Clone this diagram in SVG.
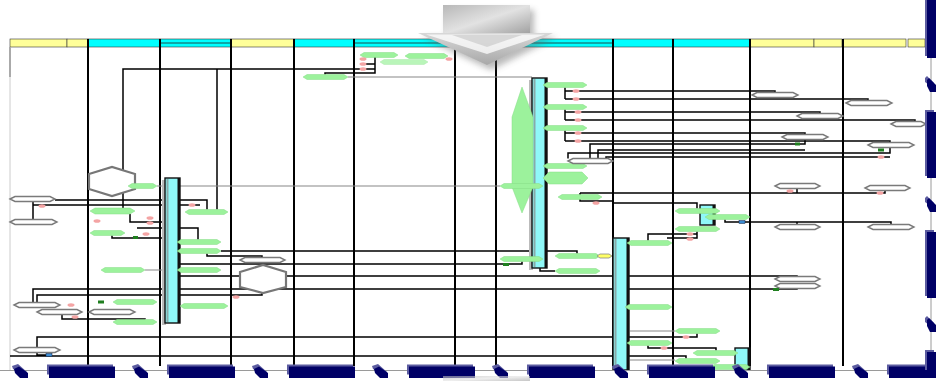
<svg xmlns="http://www.w3.org/2000/svg" width="936" height="381" viewBox="0 0 936 381">
<style>
.hy{fill:#ffff99;stroke:#333;stroke-width:.6}
.hc{fill:#00ffff;stroke:#333;stroke-width:.6}
.ln{stroke:#000;stroke-width:2;fill:none}
.c{stroke:#000;stroke-width:1.5;fill:none}
.cg{stroke:#888;stroke-width:1.2;fill:none}
.g{fill:#9cf29c;stroke:#86dc86;stroke-width:.5}
.w{fill:#fff;stroke:#7a7a7a;stroke-width:1.4}
.bw{fill:#fff;stroke:#777;stroke-width:2.2}
.p{fill:#f4a4a4}
.dg{fill:#1f7f1f}
.bl{fill:#3a8ad0;stroke:#124;stroke-width:.5}
.bar{fill:#8ff8f8;stroke:#111;stroke-width:1.4}
.nl{fill:#5c5ca0}
.nd{fill:#000066}
</style>
<defs>
<linearGradient id="ga" x1="0" y1="0" x2="1" y2="1">
<stop offset="0" stop-color="#b8b8b8"/><stop offset=".5" stop-color="#e2e2e2"/><stop offset="1" stop-color="#a0a0a0"/>
</linearGradient>
<linearGradient id="gb" x1="0" y1="0" x2="0" y2="1">
<stop offset="0" stop-color="#d8d8d8"/><stop offset="1" stop-color="#a8a8a8"/>
</linearGradient>
<filter id="sh" x="-20%" y="-20%" width="140%" height="140%"><feGaussianBlur stdDeviation="3"/></filter>
</defs>
<rect width="936" height="381" fill="#fff"/>

<g id="header">
<rect class="hy" x="10" y="39" width="57" height="8"/>
<rect class="hy" x="67" y="39" width="21" height="8"/>
<rect class="hc" x="88" y="39" width="72" height="8"/>
<rect class="hc" x="160" y="39" width="71" height="8"/>
<rect class="hy" x="231" y="39" width="63" height="8"/>
<rect class="hc" x="294" y="39" width="60" height="8"/>
<rect class="hc" x="354" y="39" width="101" height="8"/>
<rect class="hc" x="455" y="39" width="158" height="8"/>
<rect class="hc" x="613" y="39" width="60" height="8"/>
<rect class="hc" x="673" y="39" width="77" height="8"/>
<rect class="hy" x="750" y="39" width="64" height="8"/>
<rect class="hy" x="814" y="39" width="28" height="8"/>
<rect class="hy" x="843" y="39" width="63" height="8"/>
<rect class="hy" x="908" y="39" width="17" height="8"/>
<path d="M160,43 H231 M354,43 H613" stroke="#222" stroke-width=".8"/>
</g>

<g id="lanes">
<line x1="10" y1="47" x2="10" y2="370" stroke="#ccc" stroke-width="1"/>
<line x1="10" y1="47" x2="10" y2="77" stroke="#aaa" stroke-width="2"/>
<path class="ln" d="M88,39 V366 M160,39 V366 M231,39 V366 M294,39 V366 M354,39 V366 M455,39 V366 M496,39 V366 M613,39 V366 M673,39 V366 M750,39 V366 M843,39 V366"/>
</g>

<g id="connectors">
<path class="c" d="M123,208 V69 H375 M217,209.5 V69 M375,54 V73 H325 V74.5 M364,64 H375"/>
<path class="cg" d="M348,77 H532 M157,186 H165 M180,186 H500 M145,270 H165 M630,331 H675 M630,360 H675"/>
<path class="c" d="M55,200 H207 V209.5 M33,201.5 V219.5 M33,205 H200 M130,214 V222 H165 M112,235.5 V238 H165 M137,228 H198 V239.5"/>
<path class="c" d="M221,251 H577 V253.5 M207,253.5 V256 H262 V257.5 M180,264 H522 V261.5 M180,276 H797 V276.5"/>
<path class="c" stroke-width="2" d="M33,302.5 V289 H797 V288.5"/>
<path class="c" d="M37,302.5 V295 H262 V293 M62,314.5 V319 H145 V319.5 M37,347.5 V337 H697 V333.5 M37,352.5 V355 H47 M10,356 H686 V358.5"/>
<path class="c" d="M565,87.5 V99 M565,91 H775 V92.5 M565,99 H868 V100.5 M565,109.5 V120 M565,112 H820 V113.5 M565,120 H915 V121.5 M565,130.5 V141 M565,133 H805 V134.5 M565,141 H890 V142.5"/>
<path class="c" d="M590,158.5 V144 H805 V139.5 M598,158.5 V150 H805 M568,158.5 V153 H890 V147.5 M606,158.5 V157 H890"/>
<path class="c" d="M580,193 H885 V190.5 M797,188.5 V193 M580,193 V201 H613 M613,203 H697 V208.5 M725,219.5 V222 H740 M745,222 H891 V224.5 M797,222 V224.5"/>
<path class="c" d="M697,231.5 V238 H667 M648,240.5 V234 H697 M648,345.5 V348 H716 V350.5 M540,268 V271 H555"/>
</g>

<g id="bars">
<g id="a1"><rect x="162" y="180" width="4" height="145" fill="#bbb"/><rect class="bar" x="165" y="178" width="15" height="145"/><rect x="166.5" y="179" width="2" height="143" fill="#8aa"/><rect x="177.5" y="178" width="2.5" height="145" fill="#111"/></g>
<g id="a2"><rect x="529" y="80" width="4" height="190" fill="#bbb"/><rect class="bar" x="532" y="78" width="15" height="190"/><rect x="533.5" y="79" width="2" height="188" fill="#8aa"/><rect x="544.5" y="78" width="2.5" height="190" fill="#111"/></g>
<g id="a3"><rect class="bar" x="613" y="238" width="16" height="132"/><rect x="614.5" y="239" width="2" height="130" fill="#8aa"/><rect x="626.5" y="238" width="2.5" height="132" fill="#111"/></g>
<g id="a4"><rect class="bar" x="700" y="205" width="15" height="20"/><rect x="712.5" y="205" width="2.5" height="20" fill="#111"/></g>
<g id="a5"><rect class="bar" x="735" y="348" width="15" height="22"/><rect x="747.5" y="348" width="2.5" height="22" fill="#111"/></g>
</g>

<g id="bigshapes">
<g id="h1"><polygon class="bw" points="89,174 112,167 135,174 135,189 112,196 89,189"/></g>
<g id="h2"><polygon class="bw" points="240,272 263,265 286,272 286,287 263,293 240,287"/></g>
<g id="v1"><polygon class="g" points="522,87 533,117 533,187 522,213 512,187 512,117"/></g>
</g>

<g id="nodes">
<g id="g1"><polygon class="g" points="360,55 364,52.5 394,52.5 398,55 394,57.5 364,57.5"/></g>
<g id="g2"><polygon class="g" points="405,56 409,53.5 444,53.5 448,56 444,58.5 409,58.5"/></g>
<g id="g3"><polygon class="g" opacity=".7" points="380,62 384,59.5 424,59.5 428,62 424,64.5 384,64.5"/></g>
<g id="g4"><polygon class="g" points="303,77 307,74.5 344,74.5 348,77 344,79.5 307,79.5"/></g>
<g id="g5"><polygon class="g" points="543,85 547,82.5 583,82.5 587,85 583,87.5 547,87.5"/></g>
<g id="g6"><polygon class="g" points="543,107 547,104.5 583,104.5 587,107 583,109.5 547,109.5"/></g>
<g id="g7"><polygon class="g" points="543,128 547,125.5 583,125.5 587,128 583,130.5 547,130.5"/></g>
<g id="g8"><polygon class="g" points="543,166 547,163.5 583,163.5 587,166 583,168.5 547,168.5"/></g>
<g id="g9"><polygon class="g" points="543,178 549,172 582,172 588,178 582,184 549,184"/></g>
<g id="g10"><polygon class="g" points="500,186 504,183.5 539,183.5 543,186 539,188.5 504,188.5"/></g>
<g id="g11"><polygon class="g" points="558,197 562,194.5 598,194.5 602,197 598,199.5 562,199.5"/></g>
<g id="g12"><polygon class="g" points="128,186 132,183.5 153,183.5 157,186 153,188.5 132,188.5"/></g>
<g id="g13"><polygon class="g" points="90,211 95,208 130,208 135,211 130,214 95,214"/></g>
<g id="g14"><polygon class="g" points="185,212 189,209.5 224,209.5 228,212 224,214.5 189,214.5"/></g>
<g id="g15"><polygon class="g" points="90,233 94,230.5 121,230.5 125,233 121,235.5 94,235.5"/></g>
<g id="g16"><polygon class="g" points="177,242 181,239.5 217,239.5 221,242 217,244.5 181,244.5"/></g>
<g id="g17"><polygon class="g" points="177,251 181,248.5 217,248.5 221,251 217,253.5 181,253.5"/></g>
<g id="g18"><polygon class="g" points="101,270 105,267.5 141,267.5 145,270 141,272.5 105,272.5"/></g>
<g id="g19"><polygon class="g" points="177,270 181,267.5 217,267.5 221,270 217,272.5 181,272.5"/></g>
<g id="g20"><polygon class="g" points="113,302 117,299.5 153,299.5 157,302 153,304.5 117,304.5"/></g>
<g id="g21"><polygon class="g" points="180,306 184,303.5 224,303.5 228,306 224,308.5 184,308.5"/></g>
<g id="g22"><polygon class="g" points="113,322 117,319.5 153,319.5 157,322 153,324.5 117,324.5"/></g>
<g id="g23"><polygon class="g" points="500,259 504,256.5 539,256.5 543,259 539,261.5 504,261.5"/></g>
<g id="g24"><polygon class="g" points="555,256 559,253.5 596,253.5 600,256 596,258.5 559,258.5"/></g>
<g id="y1"><polygon fill="#ffff66" stroke="#888" stroke-width=".8" points="597,256 600,254 609,254 612,256 609,258 600,258"/></g>
<g id="g25"><polygon class="g" points="555,271 559,268.5 596,268.5 600,271 596,273.5 559,273.5"/></g>
<g id="g26"><polygon class="g" points="675,211 679,208.5 716,208.5 720,211 716,213.5 679,213.5"/></g>
<g id="g27"><polygon class="g" points="705,217 709,214.5 746,214.5 750,217 746,219.5 709,219.5"/></g>
<g id="g28"><polygon class="g" points="675,229 679,226.5 716,226.5 720,229 716,231.5 679,231.5"/></g>
<g id="g29"><polygon class="g" points="627,243 631,240.5 668,240.5 672,243 668,245.5 631,245.5"/></g>
<g id="g30"><polygon class="g" points="625,307 629,304.5 668,304.5 672,307 668,309.5 629,309.5"/></g>
<g id="g31"><polygon class="g" points="675,331 679,328.5 716,328.5 720,331 716,333.5 679,333.5"/></g>
<g id="g32"><polygon class="g" points="627,343 631,340.5 668,340.5 672,343 668,345.5 631,345.5"/></g>
<g id="g33"><polygon class="g" points="693,353 697,350.5 734,350.5 738,353 734,355.5 697,355.5"/></g>
<g id="g34"><polygon class="g" points="675,361 679,358.5 716,358.5 720,361 716,363.5 679,363.5"/></g>
<g id="g35"><polygon class="g" points="710,367 714,364.5 746,364.5 750,367 746,369.5 714,369.5"/></g>

<g id="w1"><polygon class="w" points="10,199 15,196.5 50,196.5 55,199 50,201.5 15,201.5"/></g>
<g id="w2"><polygon class="w" points="10,222 15,219.5 52,219.5 57,222 52,224.5 15,224.5"/></g>
<g id="w3"><polygon class="w" points="14,305 19,302.5 55,302.5 60,305 55,307.5 19,307.5"/></g>
<g id="w4"><polygon class="w" points="37,312 42,309.5 77,309.5 82,312 77,314.5 42,314.5"/></g>
<g id="w5"><polygon class="w" points="89,312 94,309.5 130,309.5 135,312 130,314.5 94,314.5"/></g>
<g id="w6"><polygon class="w" points="14,350 19,347.5 55,347.5 60,350 55,352.5 19,352.5"/></g>
<g id="w7"><polygon class="w" points="240,260 245,257.5 280,257.5 285,260 280,262.5 245,262.5"/></g>
<g id="w8"><polygon class="w" points="568,161 573,158.5 608,158.5 613,161 608,163.5 573,163.5"/></g>
<g id="w9"><polygon class="w" points="752,95 757,92.5 793,92.5 798,95 793,97.5 757,97.5"/></g>
<g id="w10"><polygon class="w" points="846,103 851,100.5 887,100.5 892,103 887,105.5 851,105.5"/></g>
<g id="w11"><polygon class="w" points="797,116 802,113.5 838,113.5 843,116 838,118.5 802,118.5"/></g>
<g id="w12"><polygon class="w" points="891,124 896,121.5 921,121.5 926,124 921,126.5 896,126.5"/></g>
<g id="w13"><polygon class="w" points="782,137 787,134.5 823,134.5 828,137 823,139.5 787,139.5"/></g>
<g id="w14"><polygon class="w" points="868,145 873,142.5 909,142.5 914,145 909,147.5 873,147.5"/></g>
<g id="w15"><polygon class="w" points="775,186 780,183.5 815,183.5 820,186 815,188.5 780,188.5"/></g>
<g id="w16"><polygon class="w" points="865,188 870,185.5 905,185.5 910,188 905,190.5 870,190.5"/></g>
<g id="w17"><polygon class="w" points="775,227 780,224.5 815,224.5 820,227 815,229.5 780,229.5"/></g>
<g id="w18"><polygon class="w" points="868,227 873,224.5 909,224.5 914,227 909,229.5 873,229.5"/></g>
<g id="w19"><polygon class="w" points="775,279 780,276.5 815,276.5 820,279 815,281.5 780,281.5"/></g>
<g id="w20"><polygon class="w" points="775,286 780,283.5 815,283.5 820,286 815,288.5 780,288.5"/></g>
</g>

<g id="markers">
<g class="p">
<ellipse cx="363" cy="59" rx="3.5" ry="1.8"/><ellipse cx="363" cy="64" rx="3.5" ry="1.8"/><ellipse cx="363" cy="69" rx="3.5" ry="1.8"/><ellipse cx="449" cy="59" rx="3.5" ry="1.8"/>
<ellipse cx="576" cy="91" rx="3.5" ry="1.8"/><ellipse cx="576" cy="99" rx="3.5" ry="1.8"/><ellipse cx="578" cy="112" rx="3.5" ry="1.8"/><ellipse cx="578" cy="120" rx="3.5" ry="1.8"/><ellipse cx="578" cy="133" rx="3.5" ry="1.8"/><ellipse cx="578" cy="141" rx="3.5" ry="1.8"/><ellipse cx="596" cy="203" rx="3.5" ry="1.8"/>
<ellipse cx="42" cy="206" rx="3.5" ry="1.8"/><ellipse cx="192" cy="205" rx="3.5" ry="1.8"/><ellipse cx="150" cy="218" rx="3.5" ry="1.8"/><ellipse cx="150" cy="223" rx="3.5" ry="1.8"/><ellipse cx="146" cy="234" rx="3.5" ry="1.8"/><ellipse cx="97" cy="221" rx="3.5" ry="1.8"/>
<ellipse cx="236" cy="297" rx="3.5" ry="1.8"/><ellipse cx="71" cy="305" rx="3.5" ry="1.8"/><ellipse cx="75" cy="317" rx="3.5" ry="1.8"/>
<ellipse cx="690" cy="234" rx="3.5" ry="1.8"/><ellipse cx="690" cy="239" rx="3.5" ry="1.8"/><ellipse cx="686" cy="337" rx="3.5" ry="1.8"/><ellipse cx="664" cy="348" rx="3.5" ry="1.8"/><ellipse cx="790" cy="191" rx="3.5" ry="1.8"/><ellipse cx="880" cy="193" rx="3.5" ry="1.8"/><ellipse cx="881" cy="157" rx="3.5" ry="1.8"/>
</g>
<g class="dg">
<rect x="133" y="236" width="5" height="3"/><rect x="98" y="300.5" width="6" height="3"/><rect x="503" y="263" width="6" height="3"/><rect x="773" y="288" width="6" height="3"/><rect x="795" y="142.5" width="5" height="3"/><rect x="878" y="148.5" width="6" height="3"/>
</g>
<g class="bl"><rect x="46" y="353.5" width="6" height="3"/><rect x="739" y="220.5" width="6" height="3"/></g>
</g>

<g id="frame">
<path d="M0,370.5 H931 V0" stroke="#9a9a9a" stroke-width="1" fill="none"/>
<g id="navy-h">
<polygon class="nl" points="12,366 18,364 27,372 27,376 20,372 13,369"/><polygon class="nd" points="14,369 19,366.5 28,373 28,378 20,378 15,373"/>
<polygon class="nl" points="132,366 138,364 147,372 147,376 140,372 133,369"/><polygon class="nd" points="134,369 139,366.5 148,373 148,378 140,378 135,373"/>
<polygon class="nl" points="252,366 258,364 267,372 267,376 260,372 253,369"/><polygon class="nd" points="254,369 259,366.5 268,373 268,378 260,378 255,373"/>
<polygon class="nl" points="372,366 378,364 387,372 387,376 380,372 373,369"/><polygon class="nd" points="374,369 379,366.5 388,373 388,378 380,378 375,373"/>
<polygon class="nl" points="492,366 498,364 507,372 507,376 500,372 493,369"/><polygon class="nd" points="494,369 499,366.5 508,373 508,378 500,378 495,373"/>
<polygon class="nl" points="612,366 618,364 627,372 627,376 620,372 613,369"/><polygon class="nd" points="614,369 619,366.5 628,373 628,378 620,378 615,373"/>
<polygon class="nl" points="732,366 738,364 747,372 747,376 740,372 733,369"/><polygon class="nd" points="734,369 739,366.5 748,373 748,378 740,378 735,373"/>
<polygon class="nl" points="852,366 858,364 867,372 867,376 860,372 853,369"/><polygon class="nd" points="854,369 859,366.5 868,373 868,378 860,378 855,373"/>
<rect class="nl" x="47" y="364.5" width="66" height="10"/><rect class="nd" x="49" y="366.5" width="66" height="11.5"/>
<rect class="nl" x="167" y="364.5" width="66" height="10"/><rect class="nd" x="169" y="366.5" width="66" height="11.5"/>
<rect class="nl" x="287" y="364.5" width="66" height="10"/><rect class="nd" x="289" y="366.5" width="66" height="11.5"/>
<rect class="nl" x="407" y="364.5" width="66" height="10"/><rect class="nd" x="409" y="366.5" width="66" height="11.5"/>
<rect class="nl" x="527" y="364.5" width="66" height="10"/><rect class="nd" x="529" y="366.5" width="66" height="11.5"/>
<rect class="nl" x="647" y="364.5" width="66" height="10"/><rect class="nd" x="649" y="366.5" width="66" height="11.5"/>
<rect class="nl" x="767" y="364.5" width="66" height="10"/><rect class="nd" x="769" y="366.5" width="66" height="11.5"/>
<rect class="nl" x="887" y="364.5" width="49" height="10"/><rect class="nd" x="889" y="366.5" width="47" height="11.5"/>
</g>
<g id="navy-v">
<rect class="nl" x="925" y="-10" width="9" height="66"/><rect class="nd" x="927" y="-8" width="9" height="66"/>
<rect class="nl" x="925" y="110" width="9" height="66"/><rect class="nd" x="927" y="112" width="9" height="66"/>
<rect class="nl" x="925" y="230" width="9" height="66"/><rect class="nd" x="927" y="232" width="9" height="66"/>
<polygon class="nl" points="925,78 927,76 934,83 934,90 929,85 925,82"/><polygon class="nd" points="927,80 929,78 936,85 936,92 930,92 927,86"/>
<polygon class="nl" points="925,198 927,196 934,203 934,210 929,205 925,202"/><polygon class="nd" points="927,200 929,198 936,205 936,212 930,212 927,206"/>
<polygon class="nl" points="925,318 927,316 934,323 934,330 929,325 925,322"/><polygon class="nd" points="927,320 929,318 936,325 936,332 930,332 927,326"/>
<rect class="nl" x="925" y="350" width="9" height="20"/><rect class="nd" x="927" y="352" width="9" height="26"/>
</g>
</g>

<g id="arrow">
<polygon points="447,10 534,10 534,37 557,37 491,70 422,37 447,37" fill="#666" opacity=".45" filter="url(#sh)"/>
<rect x="443" y="5" width="87" height="29" fill="url(#ga)"/>
<polygon points="418,33 553,33 487,65" fill="url(#gb)"/>
<polygon points="426,34.5 545,34.5 487,54" fill="#fff" opacity=".75"/>
<polygon points="452,35 522,35 487,47" fill="#cfcfcf" opacity=".8"/>
<rect x="443" y="376" width="87" height="5" fill="url(#ga)" opacity=".6"/>
</g>
</svg>
